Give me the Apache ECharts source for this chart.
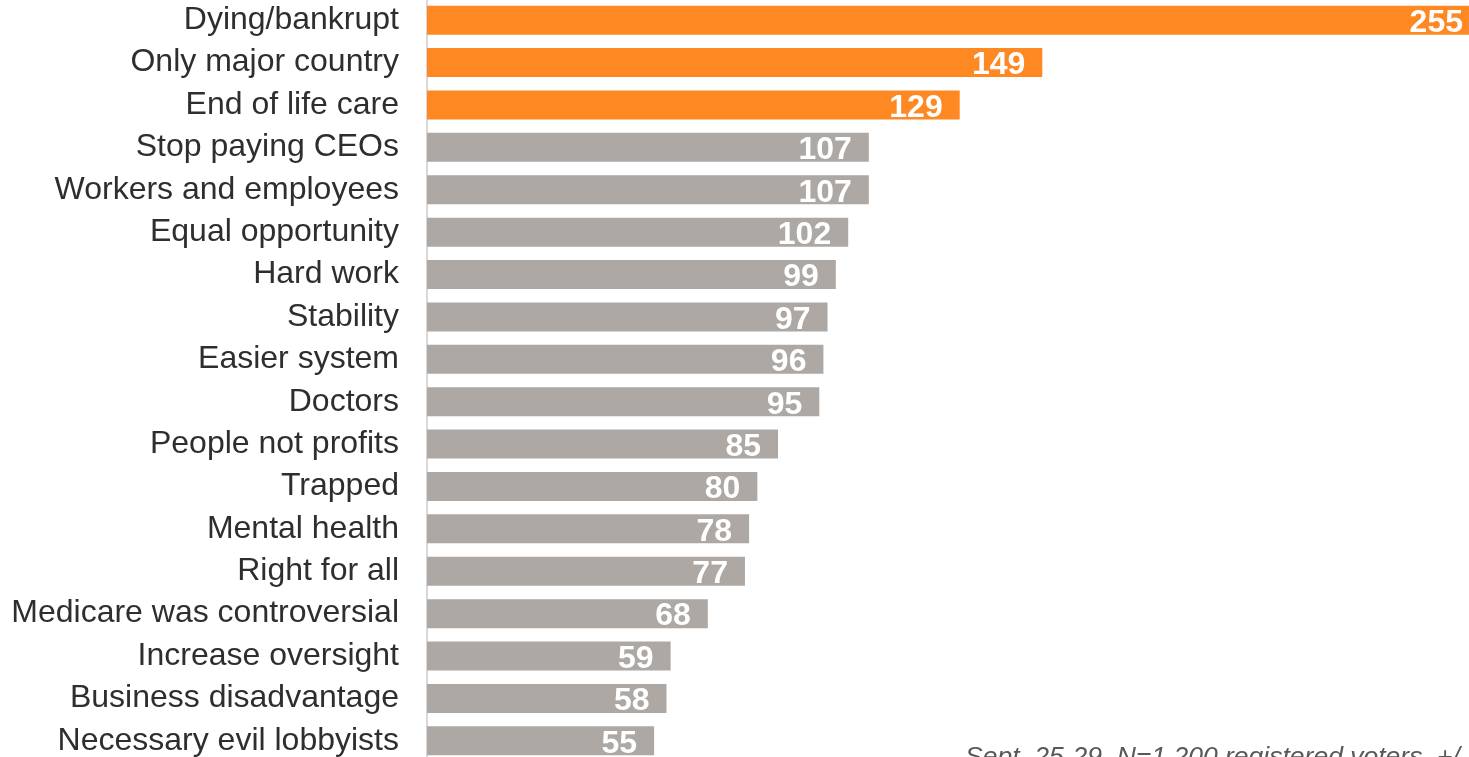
<!DOCTYPE html>
<html>
    <head>
        <meta charset="utf-8">
        <script src="https://cdn.jsdelivr.net/npm/echarts@6/dist/echarts.min.js"></script>
        <style type="text/css">
            #main {height:757px;width:1469px;position:absolute;}
            body {margin:0px;padding:0px;overflow:hidden;background:#fff;}
        </style>
    </head>
    <body>
        <div id="main"></div>
        <script type="text/javascript">
            // categories top to bottom
            let categories = ['Dying/bankrupt','Only major country','End of life care','Stop paying CEOs',
                'Workers and employees','Equal opportunity','Hard work','Stability','Easier system','Doctors',
                'People not profits','Trapped','Mental health','Right for all','Medicare was controversial',
                'Increase oversight','Business disadvantage','Necessary evil lobbyists'];
            let values = [255,149,129,107,107,102,99,97,96,95,85,80,78,77,68,59,58,55];
            let highlightCount = 3;
            let note = 'Sept. 25-29, N=1,200 registered voters, +/-';

            let orange = '#fe8822';
            let grey = '#ada8a3';

            let myChart = echarts.init(document.getElementById('main'));

            let barData = values.map(function(v, i){
                return {value: v, itemStyle: {color: i < highlightCount ? orange : grey}};
            });

            let option = {
                animation: false,
                grid: {left: 427, width: 1053, top: -1, height: 763, outerBoundsMode: 'none', containLabel: false},
                xAxis: {
                    type: 'value',
                    min: 0,
                    max: 255,
                    show: false
                },
                yAxis: {
                    type: 'category',
                    inverse: true,
                    data: categories,
                    axisTick: {show: false},
                    axisLine: {show: true, lineStyle: {color: '#d9d9d9', width: 2}},
                    axisLabel: {
                        margin: 28,
                        color: '#2e2e2e',
                        fontSize: 32,
                        padding: [5, 0, 0, 0],
                        fontFamily: 'Liberation Sans, Arial, sans-serif'
                    }
                },
                series: [{
                    type: 'bar',
                    data: barData,
                    barWidth: 29,
                    clip: false,
                    label: {
                        show: true,
                        position: 'insideRight',
                        distance: 17,
                        offset: [0, 3],
                        color: '#fff',
                        fontWeight: 'bold',
                        fontSize: 32,
                        fontFamily: 'Liberation Sans, Arial, sans-serif'
                    }
                }],
                graphic: [{
                    type: 'text',
                    left: 965,
                    top: 744,
                    style: {
                        text: note,
                        fill: '#595959',
                        fontSize: 26.5,
                        fontStyle: 'italic',
                        fontFamily: 'Liberation Sans, Arial, sans-serif'
                    }
                }]
            };
            myChart.setOption(option);
            window.onresize = myChart.resize;
        </script>
    </body>
</html>
